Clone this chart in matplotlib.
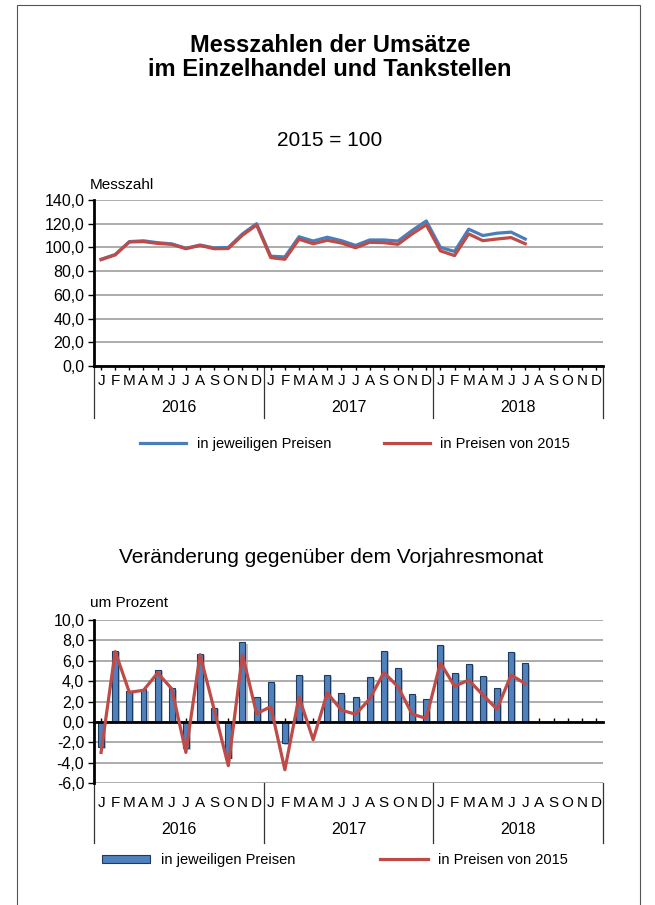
import matplotlib
matplotlib.use('Agg')
import matplotlib.pyplot as plt
import matplotlib.patheffects as pe
from matplotlib.patches import Rectangle, Patch
from matplotlib.lines import Line2D
from matplotlib.ticker import FuncFormatter

plt.rcParams['font.family'] = ['Liberation Sans', 'DejaVu Sans']

# Daten
years = ['2016', '2017', '2018']
months = list('JFMAMJJASOND')

# Messzahlen 2015 = 100
mz_nominal = [90.0, 94.0, 104.9, 105.6, 104.0, 103.0, 99.3, 102.0, 99.6, 100.0,
              111.4, 120.0, 92.6, 92.0, 109.0, 105.4, 108.6, 105.7, 101.7, 106.3,
              106.3, 105.4, 114.3, 122.3, 100.0, 96.6, 115.4, 110.0, 112.0, 112.9,
              107.1]
mz_real = [89.7, 93.7, 104.6, 104.9, 103.4, 102.6, 98.9, 101.7, 98.9, 99.1,
           110.3, 118.9, 91.4, 90.0, 106.9, 103.1, 106.0, 103.7, 99.7, 104.3,
           104.0, 102.6, 111.4, 119.1, 97.1, 93.1, 111.4, 105.7, 107.1, 108.3,
           103.1]

# Veraenderung gegenueber Vorjahresmonat in %
vj_nominal = [-2.5, 7.0, 3.0, 3.2, 5.1, 3.3, -2.6, 6.7, 1.4, -3.5,
              7.8, 2.4, 3.9, -2.1, 4.6, 0.0, 4.65, 2.8, 2.4, 4.4,
              6.95, 5.25, 2.7, 2.2, 7.55, 4.8, 5.7, 4.5, 3.35, 6.85,
              5.75]
vj_real = [-3.0, 6.9, 2.9, 3.1, 4.8, 3.25, -3.0, 6.6, 1.2, -4.3,
           6.6, 0.8, 1.5, -4.7, 2.45, -1.75, 2.85, 1.15, 0.75, 2.25,
           4.85, 3.45, 0.75, 0.35, 5.8, 3.5, 4.1, 2.65, 1.25, 4.6,
           3.75]

labels = ['in jeweiligen Preisen', 'in Preisen von 2015']
blau = '#4A7EBB'
rot = '#BE4B48'
gitter = '#a6a6a6'

W, H = 655, 905
fig = plt.figure(figsize=(W / 100, H / 100), dpi=100)


def fx(px):
    return px / W


def fy(py):
    return 1 - py / H


# Rahmen
fig.patches.append(Rectangle((fx(17), fy(1000)), fx(623), fy(5) - fy(1000),
                             transform=fig.transFigure, fill=False,
                             edgecolor='#555555', lw=0.8))

fig.text(fx(330), fy(45), 'Messzahlen der Umsätze', ha='center', va='center',
         fontsize=17, fontweight='bold')
fig.text(fx(330), fy(70), 'im Einzelhandel und Tankstellen', ha='center',
         va='center', fontsize=17, fontweight='bold')
fig.text(fx(330), fy(140), '2015 = 100', ha='center', va='center', fontsize=15)
fig.text(fx(90), fy(185), 'Messzahl', ha='left', va='center', fontsize=11)
fig.text(fx(331), fy(557), 'Veränderung gegenüber dem Vorjahresmonat',
         ha='center', va='center', fontsize=15)
fig.text(fx(90), fy(603), 'um Prozent', ha='left', va='center', fontsize=11)

komma = FuncFormatter(lambda v, p: f'{v:.1f}'.replace('.', ','))
n = len(years) * len(months)
x_all = list(range(n))


def kategorien(ax, h_px, y_mon, y_jahr, y_end):
    tr = ax.get_xaxis_transform()
    for i in range(n):
        ax.text(i, -y_mon / h_px, months[i % 12], transform=tr, ha='center',
                va='center', fontsize=11)
    for j, yr in enumerate(years):
        ax.text(j * 12 + 5.5, -y_jahr / h_px, yr, transform=tr, ha='center',
                va='center', fontsize=11.5)
    for b in [-0.5, 11.5, 23.5, 35.5]:
        ax.plot([b, b], [0, -y_end / h_px], transform=tr, color='#333333',
                lw=0.9, clip_on=False)


def stil(ax):
    ax.set_xlim(-0.5, n - 0.5)
    ax.yaxis.grid(True, color=gitter, lw=1.3)
    ax.set_axisbelow(True)
    ax.spines['top'].set_visible(False)
    ax.spines['right'].set_visible(False)
    ax.spines['left'].set_linewidth(2)
    ax.spines['bottom'].set_linewidth(2)
    ax.yaxis.set_major_formatter(komma)
    ax.tick_params(axis='y', length=4, width=1, labelsize=11.5, pad=3)
    ax.set_xticks(x_all)
    ax.tick_params(axis='x', labelbottom=False, length=3, width=1)


# oberes Diagramm
ax1 = fig.add_axes([fx(94), fy(366), fx(603) - fx(94), fy(200) - fy(366)])
ax1.plot(x_all[:len(mz_nominal)], mz_nominal, color=blau, lw=2.3, zorder=3)
ax1.plot(x_all[:len(mz_real)], mz_real, color=rot, lw=2.3, zorder=4)
ax1.set_ylim(0, 140)
ax1.set_yticks(range(0, 141, 20))
stil(ax1)
ax1.tick_params(axis='x', direction='out')
kategorien(ax1, 166, 15, 41, 52)

ax1.legend([Line2D([], [], color=blau, lw=2.3), Line2D([], [], color=rot, lw=2.3)],
           labels, loc='center', bbox_to_anchor=(fx(355), fy(444)),
           bbox_transform=fig.transFigure, ncol=2, frameon=False,
           fontsize=10.5, handlelength=3.2, handletextpad=0.7,
           columnspacing=3.6)

# unteres Diagramm
ax2 = fig.add_axes([fx(94), fy(783), fx(603) - fx(94), fy(620) - fy(783)])
bars = ax2.bar(x_all[:len(vj_nominal)], vj_nominal, width=0.42, color='#4F81BD',
               edgecolor='#1F3A60', lw=0.8, zorder=2)
for b in bars:
    b.set_path_effects([pe.SimplePatchShadow(offset=(1.5, -1.0),
                                             shadow_rgbFace='#999999', alpha=0.6),
                        pe.Normal()])
ax2.plot(x_all[:len(vj_real)], vj_real, color=rot, lw=2.3, zorder=4)
ax2.set_ylim(-6, 10)
ax2.set_yticks(range(-6, 11, 2))
stil(ax2)
ax2.spines['bottom'].set_position(('data', 0))
ax2.spines['bottom'].set_zorder(3)
ax2.tick_params(axis='x', direction='in')
kategorien(ax2, 163, 20, 47, 60)

ax2.legend([Patch(facecolor='#4F81BD', edgecolor='#1F3A60', lw=0.8),
            Line2D([], [], color=rot, lw=2.3)],
           labels, loc='center', bbox_to_anchor=(fx(335), fy(860)),
           bbox_transform=fig.transFigure, ncol=2, frameon=False,
           fontsize=10.5, handlelength=3.3, handleheight=0.5,
           handletextpad=0.7, columnspacing=5.8)

fig.savefig('out.png', dpi=100)
